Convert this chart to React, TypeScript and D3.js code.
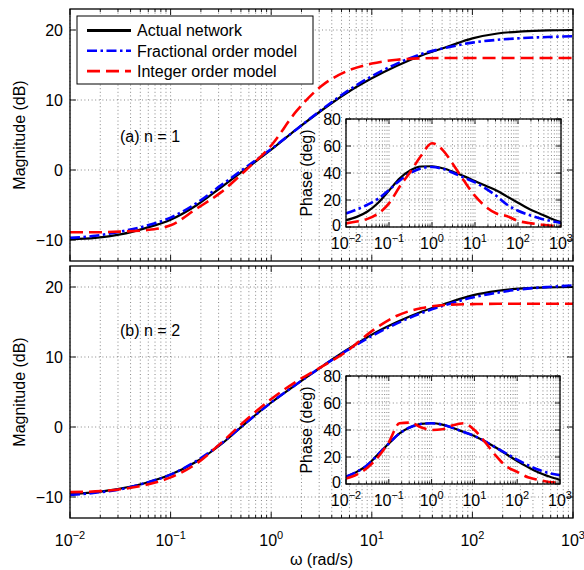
import * as d3 from 'd3';
import React, { useEffect, useRef } from 'react';

// frequency grid (rad/s), quarter-decade steps
const omega = [0.01, 0.0178, 0.0316, 0.0562, 0.1, 0.178, 0.316, 0.562, 1, 1.78, 3.16, 5.62, 10, 17.8, 31.6, 56.2, 100, 178, 316, 562, 1000];

// (a) n = 1, magnitude (dB)
const magActualA = [-9.9, -9.7, -9.2, -8.3, -7.1, -5.1, -2.5, 0.2, 2.9, 5.8, 8.5, 11.0, 13.1, 14.9, 16.4, 17.6, 18.8, 19.5, 19.8, 19.95, 20.0];
const magFracA = [-9.7, -9.4, -8.8, -8.0, -6.8, -4.8, -2.2, 0.4, 3.0, 5.8, 8.6, 11.2, 13.4, 15.2, 16.6, 17.5, 18.2, 18.6, 18.85, 19.0, 19.1];
const magIntA = [-8.9, -8.9, -8.8, -8.6, -7.9, -5.6, -3.2, 0.0, 3.5, 8.4, 12.0, 14.1, 15.2, 15.75, 15.95, 16.0, 16.0, 16.0, 16.0, 16.0, 16.0];

// (a) n = 1, phase (deg)
const phaseActualA = [5, 7.5, 11.5, 18, 27, 36, 42, 44.8, 45, 43.5, 40.8, 37.5, 34, 30.5, 27, 22.5, 18, 13.5, 10, 6.5, 3.5];
const phaseFracA = [10, 13, 16.5, 21, 27.5, 34.5, 40, 43.5, 44.5, 43, 40, 36.5, 33, 28.5, 23, 16.5, 12, 9, 6.5, 4.5, 3];
const phaseIntA = [2.7, 4, 6, 10, 17.5, 30, 41, 53, 62, 57, 46, 34, 23, 15, 10, 8, 4.5, 3, 2, 1, 0.5];

// (b) n = 2, magnitude (dB)
const magActualB = [-9.6, -9.3, -8.8, -8.0, -6.8, -5.0, -2.5, 0.6, 3.5, 6.1, 8.6, 11.0, 13.2, 15.0, 16.5, 17.7, 18.8, 19.45, 19.8, 19.95, 20.0];
const magFracB = [-9.7, -9.4, -8.9, -8.0, -6.8, -4.9, -2.4, 0.6, 3.5, 6.1, 8.6, 10.9, 13.0, 14.8, 16.3, 17.5, 18.5, 19.2, 19.7, 20.0, 20.2];
const magIntB = [-9.3, -9.2, -8.9, -8.3, -7.2, -5.3, -2.3, 1.0, 4.0, 6.5, 8.6, 10.8, 13.7, 15.9, 17.0, 17.45, 17.55, 17.6, 17.6, 17.6, 17.6];

// (b) n = 2, phase (deg)
const phaseActualB = [5.5, 9, 14, 22, 30, 37.5, 42, 44.5, 45, 44, 41.5, 38.5, 35.5, 31.5, 27, 22, 17, 12.5, 8.5, 5.5, 3];
const phaseFracB = [5.5, 9, 14, 22, 30, 37.5, 42, 44.5, 45, 44, 41.5, 38.5, 35.5, 31.5, 27, 22.5, 18, 14, 10.5, 8, 6.5];
const phaseIntB = [4, 7, 12, 20, 31, 45, 45.5, 42, 40, 40.5, 43.5, 45, 40, 31, 21, 13, 9, 5, 3, 1.5, 1];

const magTicks = [-10, 0, 10, 20];
const phaseTicks = [0, 20, 40, 60, 80];
const decadeTicks = [0.01, 0.1, 1, 10, 100, 1000];
const decadeExps = ['\u22122', '\u22121', '0', '1', '2', '3'];
const legendLabels = ['Actual network', 'Fractional order model', 'Integer order model'];
const panelLabels = ['(a) n = 1', '(b) n = 2'];

const FONT = '"Liberation Sans", Arial, Helvetica, sans-serif';

const styles = [
  { color: '#000000', dash: null, width: 2.2 },
  { color: '#0000ff', dash: '10,3.5,2.5,3.5', width: 2.6 },
  { color: '#ff0000', dash: '13,6', width: 2.6 },
];

let clipCount = 0;

function drawAxes(root: any, box: any, yDomain: number[], yTicks: number[], series: number[][], opts: any) {
  const { x0, y0, w, h } = box;
  const xs = d3.scaleLog().domain([0.01, 1000]).range([x0, x0 + w]);
  const ys = d3.scaleLinear().domain(yDomain).range([y0 + h, y0]);
  const g = root.append('g');

  if (opts.inset) {
    g.append('rect').attr('x', x0).attr('y', y0).attr('width', w).attr('height', h).attr('fill', '#fff');
  }

  // dotted grid
  const grid = g.append('g')
    .attr('stroke', '#555')
    .attr('stroke-width', 0.7)
    .attr('stroke-dasharray', '1,2.6');
  xs.ticks().forEach((t: number) => {
    grid.append('line').attr('x1', xs(t)).attr('x2', xs(t)).attr('y1', y0).attr('y2', y0 + h);
  });
  yTicks.forEach((t) => {
    grid.append('line').attr('x1', x0).attr('x2', x0 + w).attr('y1', ys(t)).attr('y2', ys(t));
  });

  // curves
  const id = 'clip' + (clipCount++);
  g.append('clipPath').attr('id', id)
    .append('rect').attr('x', x0).attr('y', y0).attr('width', w).attr('height', h);
  const line = d3.line<number>()
    .x((d, i) => xs(omega[i]))
    .y((d) => ys(d))
    .curve(d3.curveMonotoneX);
  const curves = g.append('g').attr('clip-path', 'url(#' + id + ')');
  series.forEach((vals, i) => {
    const s = styles[i];
    curves.append('path')
      .attr('d', line(vals))
      .attr('fill', 'none')
      .attr('stroke', s.color)
      .attr('stroke-width', s.width)
      .attr('stroke-dasharray', s.dash)
      .attr('stroke-linejoin', 'round');
  });

  // box + ticks
  g.append('rect').attr('x', x0).attr('y', y0).attr('width', w).attr('height', h)
    .attr('fill', 'none').attr('stroke', '#000').attr('stroke-width', 1.3);
  const tk = g.append('g').attr('stroke', '#000').attr('stroke-width', 0.9);
  const major = opts.inset ? 5 : 6;
  const minor = opts.inset ? 2.5 : 3;
  xs.ticks().forEach((t: number) => {
    const lg = Math.log10(t);
    const len = Math.abs(lg - Math.round(lg)) < 1e-6 ? major : minor;
    tk.append('line').attr('x1', xs(t)).attr('x2', xs(t)).attr('y1', y0 + h).attr('y2', y0 + h - len);
    tk.append('line').attr('x1', xs(t)).attr('x2', xs(t)).attr('y1', y0).attr('y2', y0 + len);
  });
  yTicks.forEach((t) => {
    tk.append('line').attr('x1', x0).attr('x2', x0 + major).attr('y1', ys(t)).attr('y2', ys(t));
    tk.append('line').attr('x1', x0 + w).attr('x2', x0 + w - major).attr('y1', ys(t)).attr('y2', ys(t));
  });

  // tick labels
  const lab = g.append('g').attr('font-family', FONT).attr('font-size', 16).attr('fill', '#000');
  yTicks.forEach((t, i) => {
    lab.append('text')
      .attr('x', x0 - opts.yPad).attr('y', ys(t) - (opts.inset && i === 0 ? 1.5 : 0)).attr('dy', '0.36em')
      .attr('text-anchor', 'end')
      .text(t < 0 ? '\u2212' + Math.abs(t) : String(t));
  });
  if (opts.xLabels) {
    decadeTicks.forEach((t, i) => {
      const txt = lab.append('text')
        .attr('x', xs(t)).attr('y', y0 + h + opts.xPad)
        .attr('text-anchor', 'middle');
      txt.append('tspan').text('10');
      txt.append('tspan').attr('dy', -7).attr('font-size', 11).text(decadeExps[i]);
    });
  }

  // y axis title
  lab.append('text')
    .attr('transform', 'translate(' + opts.titleX + ',' + (y0 + h / 2) + ') rotate(-90)')
    .attr('text-anchor', 'middle')
    .text(opts.title);

  return { xs, ys, g };
}

export default function App() {
  const ref = useRef<SVGSVGElement>(null);

  useEffect(() => {
    const svg = d3.select(ref.current);
    svg.selectAll('*').remove();

    const left = 70, right = 573;
    const panelA = { x0: left, y0: 9, w: right - left, h: 252 };
    const panelB = { x0: left, y0: 266, w: right - left, h: 252 };

    drawAxes(svg, panelA, [-13, 23], magTicks, [magActualA, magFracA, magIntA],
      { inset: false, yPad: 7, xLabels: false, titleX: 25, title: 'Magnitude (dB)' });
    drawAxes(svg, panelB, [-13, 23], magTicks, [magActualB, magFracB, magIntB],
      { inset: false, yPad: 7, xLabels: true, xPad: 28, titleX: 25, title: 'Magnitude (dB)' });

    // panel tags
    [panelA, panelB].forEach((p, i) => {
      svg.append('text')
        .attr('x', 120).attr('y', p.y0 + (i === 0 ? 133 : 70))
        .attr('font-family', FONT).attr('font-size', 16)
        .text(panelLabels[i]);
    });

    // insets
    drawAxes(svg, { x0: 346, y0: 119, w: 215, h: 108 }, [0, 80], phaseTicks,
      [phaseActualA, phaseFracA, phaseIntA],
      { inset: true, yPad: 5, xLabels: true, xPad: 22, titleX: 312, title: 'Phase (deg)' });
    drawAxes(svg, { x0: 346, y0: 376, w: 214, h: 108 }, [0, 80], phaseTicks,
      [phaseActualB, phaseFracB, phaseIntB],
      { inset: true, yPad: 5, xLabels: true, xPad: 22, titleX: 312, title: 'Phase (deg)' });

    // x axis title
    svg.append('text')
      .attr('x', (left + right) / 2).attr('y', 565)
      .attr('text-anchor', 'middle')
      .attr('font-family', FONT).attr('font-size', 16)
      .text('\u03c9 (rad/s)');

    // legend
    const lg = svg.append('g');
    lg.append('rect').attr('x', 77).attr('y', 16).attr('width', 236).attr('height', 68)
      .attr('fill', '#fff').attr('stroke', '#000').attr('stroke-width', 1);
    legendLabels.forEach((name, i) => {
      const y = 30.5 + i * 20.3;
      const s = styles[i];
      lg.append('line')
        .attr('x1', 87).attr('x2', 131).attr('y1', y).attr('y2', y)
        .attr('stroke', s.color).attr('stroke-width', i === 0 ? 2.8 : s.width)
        .attr('stroke-dasharray', s.dash);
      lg.append('text')
        .attr('x', 137).attr('y', y).attr('dy', '0.36em')
        .attr('font-family', FONT).attr('font-size', 16)
        .text(name);
    });
  }, []);

  return (
    <svg
      ref={ref}
      width={584}
      height={570}
      style={{ position: 'absolute', left: 0, top: 0, background: '#fff' }}
    />
  );
}
